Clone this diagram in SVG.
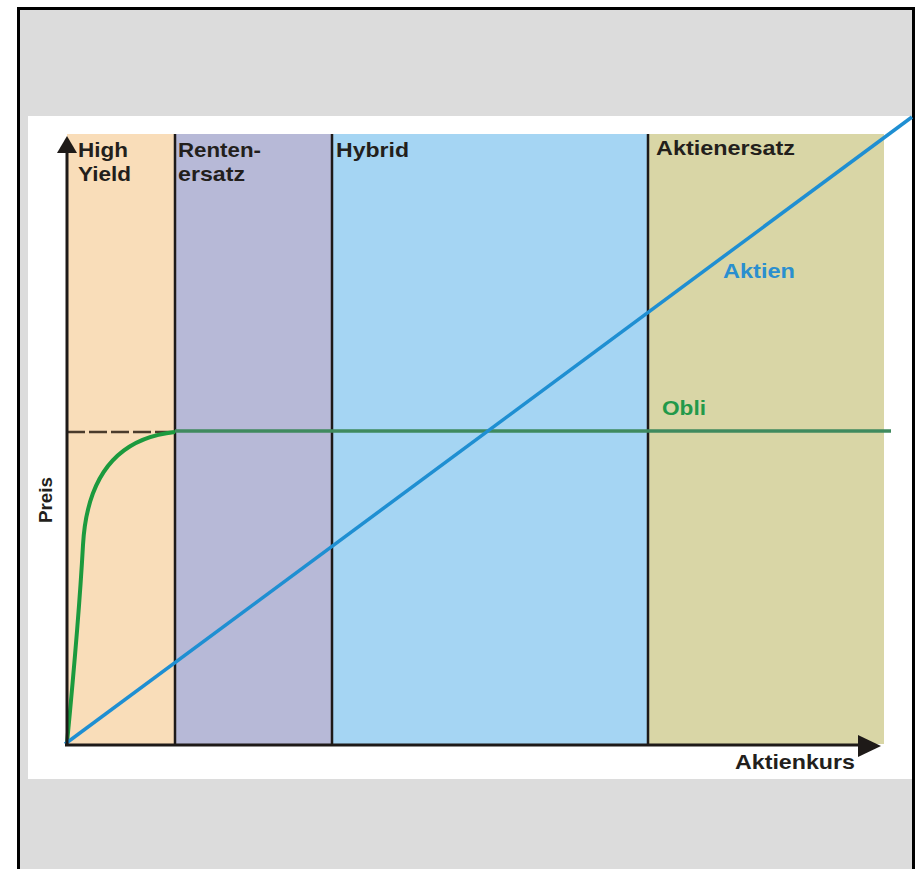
<svg xmlns="http://www.w3.org/2000/svg" width="916" height="869" viewBox="0 0 916 869">
<style>
.lbl{font-family:"Liberation Sans",Arial,sans-serif;font-weight:bold;font-size:21px;fill:#231f1c}
.div{stroke:#1e1a18;stroke-width:2.5}
.ax{fill:#1e1a18}
</style>
<rect x="0" y="0" width="916" height="869" fill="#ffffff"/>
<rect x="18.5" y="8.5" width="895" height="875" fill="#dcdcdc" stroke="#000" stroke-width="3"/>
<rect x="28" y="116" width="884" height="663" fill="#ffffff"/>
<g id="band-highyield"><rect x="67" y="134" width="108" height="610" fill="#f9ddb9"/>
<text class="lbl" x="78" y="157" textLength="50" lengthAdjust="spacingAndGlyphs">High</text><text class="lbl" x="78" y="181" textLength="53" lengthAdjust="spacingAndGlyphs">Yield</text></g>
<g id="band-rentenersatz"><rect x="175" y="134" width="157" height="610" fill="#b7b9d7"/>
<text class="lbl" x="178" y="157" textLength="83" lengthAdjust="spacingAndGlyphs">Renten-</text><text class="lbl" x="178" y="181" textLength="67" lengthAdjust="spacingAndGlyphs">ersatz</text></g>
<g id="band-hybrid"><rect x="332" y="134" width="316" height="610" fill="#a5d5f3"/>
<text class="lbl" x="336" y="157" textLength="73" lengthAdjust="spacingAndGlyphs">Hybrid</text></g>
<g id="band-aktienersatz"><rect x="648" y="134" width="236" height="610" fill="#d9d6a6"/>
<text class="lbl" x="656" y="155" textLength="139" lengthAdjust="spacingAndGlyphs">Aktienersatz</text></g>
<g id="connectors">
<line class="div" x1="175" y1="134" x2="175" y2="744"/>
<line class="div" x1="332" y1="134" x2="332" y2="744"/>
<line class="div" x1="648" y1="134" x2="648" y2="744"/>
<line x1="67" y1="432" x2="175" y2="432" stroke="#4a3b2c" stroke-width="2.5" stroke-dasharray="18,4"/>
<line x1="175" y1="431" x2="891" y2="431" stroke="#3f8a5e" stroke-width="3.5"/>
<path d="M67,743 C75,660 80,600 83,545 C87,475 118,438 175,432" fill="none" stroke="#1c9a3e" stroke-width="4"/>
<line x1="65" y1="744" x2="912" y2="117" stroke="#1f8fd2" stroke-width="3.5"/>
<line x1="67" y1="745" x2="67" y2="148" stroke="#1e1a18" stroke-width="3"/>
<path class="ax" d="M57,153 L67,136 L77,153 Z"/>
<line x1="65" y1="745" x2="862" y2="745" stroke="#1e1a18" stroke-width="3"/>
<path class="ax" d="M858,735 L881,746 L858,757 Z"/>
</g>
<g id="labels">
<text class="lbl" x="723" y="278" style="fill:#2a8fcf" textLength="72" lengthAdjust="spacingAndGlyphs">Aktien</text>
<text class="lbl" x="662" y="415" style="fill:#22994a" textLength="44" lengthAdjust="spacingAndGlyphs">Obli</text>
<text class="lbl" x="735" y="769" textLength="120" lengthAdjust="spacingAndGlyphs">Aktienkurs</text>
<text class="lbl" transform="translate(52,523) rotate(-90)" style="font-size:19px" textLength="46" lengthAdjust="spacingAndGlyphs">Preis</text>
</g>
</svg>
